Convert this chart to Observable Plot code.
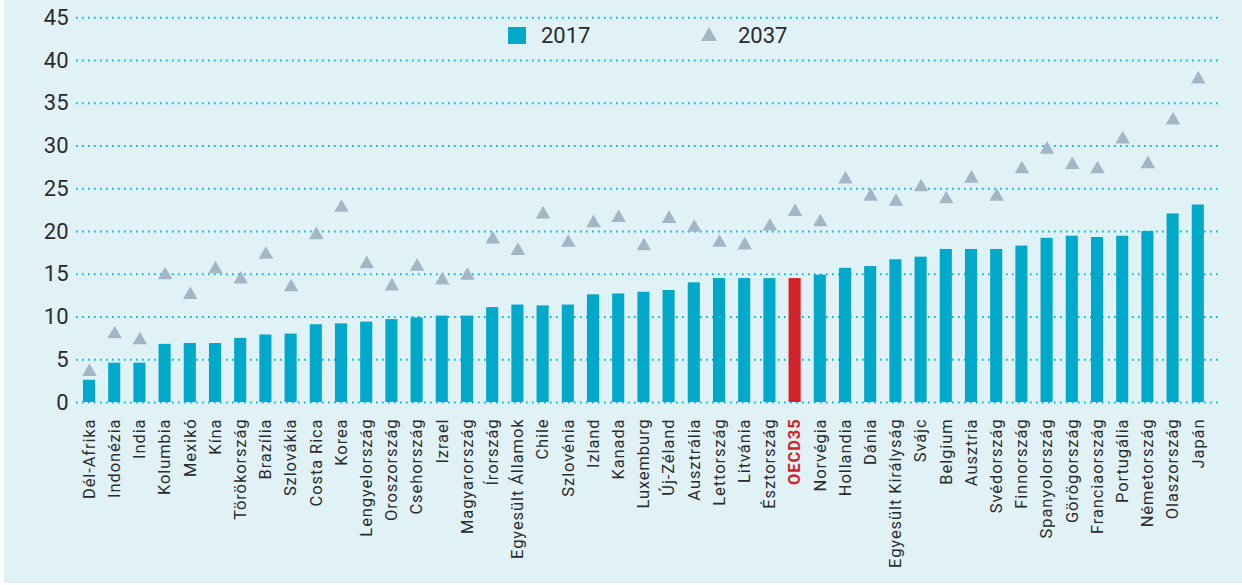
<!DOCTYPE html>
<html>
<head>
<meta charset="utf-8">
<script src="https://cdn.jsdelivr.net/npm/d3@7"></script>
<script src="https://cdn.jsdelivr.net/npm/@observablehq/plot@0.6"></script>
<style>
  html, body { margin: 0; padding: 0; background: #ffffff; }
  #wrap { position: relative; width: 1242px; height: 585px; overflow: hidden; }
  #bg { position: absolute; left: 4px; top: 0; width: 1238px; height: 583px; background: #e1f2f7; }
  #chart { position: absolute; left: 0; top: 0; }
  #legend { position: absolute; left: 0; top: 0; width: 1242px; height: 60px; font-family: Roboto, sans-serif; font-size: 22px; color: #2b2b2b; }
  .lg-item { position: absolute; }
  .lg-text { position: absolute; line-height: 1; }
</style>
</head>
<body>
<div id="wrap">
  <div id="bg"></div>
  <div id="chart"></div>
  <div id="legend"></div>
</div>
<script>
const countries = ["Dél-Afrika","Indonézia","India","Kolumbia","Mexikó","Kína","Törökország","Brazília","Szlovákia","Costa Rica","Korea","Lengyelország","Oroszország","Csehország","Izrael","Magyarország","Írország","Egyesült Államok","Chile","Szlovénia","Izland","Kanada","Luxemburg","Új-Zéland","Ausztrália","Lettország","Litvánia","Észtország","OECD35","Norvégia","Hollandia","Dánia","Egyesült Királyság","Svájc","Belgium","Ausztria","Svédország","Finnország","Spanyolország","Görögország","Franciaország","Portugália","Németország","Olaszország","Japán"];
const values2017 = [2.6,4.6,4.6,6.8,6.9,6.9,7.5,7.9,8.0,9.1,9.2,9.4,9.7,9.9,10.1,10.1,11.1,11.4,11.3,11.4,12.6,12.7,12.9,13.1,14.0,14.5,14.5,14.5,14.5,14.9,15.7,15.9,16.7,17.0,17.9,17.9,17.9,18.3,19.2,19.45,19.3,19.45,20.0,22.05,23.1];
const values2037 = [3.6,8.0,7.3,14.9,12.6,15.6,14.4,17.3,13.5,19.6,22.8,16.2,13.6,15.9,14.3,14.85,19.1,17.75,22.0,18.7,21.0,21.6,18.3,21.5,20.45,18.7,18.4,20.6,22.3,21.1,26.1,24.1,23.5,25.2,23.8,26.2,24.1,27.3,29.6,27.8,27.3,30.8,27.9,33.0,37.8];
const yTicks = [0,5,10,15,20,25,30,35,40,45];
const highlight = "OECD35";
const seriesNames = ["2017","2037"];

const colBar = "#00a9ca";
const colRed = "#d2232a";
const colTri = "#a3b6c6";
const colGrid = "#00b3d6";

const data = countries.map((c, i) => ({country: c, v17: values2017[i], v37: values2037[i]}));

const chart = Plot.plot({
  width: 1242,
  height: 585,
  marginLeft: 76,
  marginRight: 23,
  marginTop: 17.3,
  marginBottom: 183,
  style: {background: "transparent", fontFamily: "Roboto, sans-serif", color: "#2b2b2b"},
  x: {domain: countries, range: [69.85, 1216.95], padding: 0.52, round: false, label: null},
  y: {domain: [0, 45], label: null},
  marks: [
    Plot.ruleY(yTicks, {stroke: colGrid, strokeWidth: 2, strokeDasharray: "1.6,4.4"}),
    Plot.barY(data.filter(d => d.country !== highlight), {x: "country", y: "v17", fill: colBar}),
    Plot.barY(data.filter(d => d.country === highlight), {x: "country", y: "v17", fill: colRed}),
    Plot.dot(data, {x: "country", y: "v37", symbol: "triangle", r: 5.4, fill: colTri}),
    Plot.axisY(yTicks, {tickSize: 0, tickPadding: 8, fontSize: 22, label: null}),
    Plot.axisX({tickSize: 0, tickPadding: 16, tickRotate: -90, fontSize: 16.5, label: null})
  ]
});
document.getElementById("chart").appendChild(chart);

// style x tick labels
d3.select(chart).selectAll("g[aria-label='x-axis tick label'] text")
  .style("letter-spacing", "0.9px")
  .each(function() {
    if (this.textContent === highlight) {
      d3.select(this).attr("fill", colRed).style("font-weight", "bold");
    }
  });

// legend
const legend = d3.select("#legend");
legend.append("div").attr("class", "lg-item")
  .style("left", "508px").style("top", "27px").style("width", "18px").style("height", "17px")
  .style("background", colBar);
legend.append("div").attr("class", "lg-text").style("left", "541px").style("top", "25px").text(seriesNames[0]);
const tri = legend.append("svg").attr("class", "lg-item")
  .style("left", "700px").style("top", "26px").attr("width", 18).attr("height", 16);
tri.append("path").attr("d", "M9,1 L17,15 L1,15 Z").attr("fill", colTri);
legend.append("div").attr("class", "lg-text").style("left", "738px").style("top", "25px").text(seriesNames[1]);
</script>
</body>
</html>
